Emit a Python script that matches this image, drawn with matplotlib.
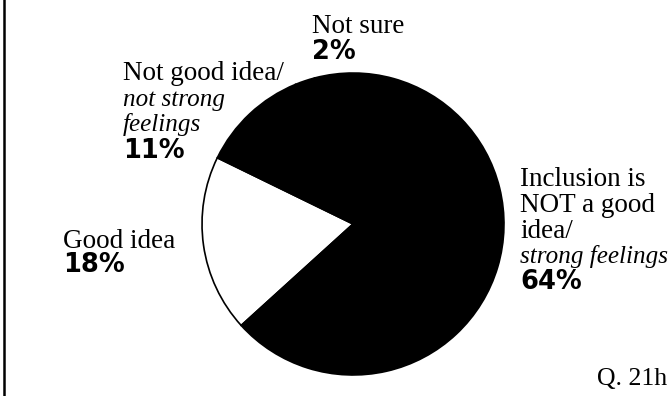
import matplotlib
matplotlib.use('Agg')
import matplotlib.pyplot as plt
from matplotlib.lines import Line2D

# survey answers, percent
labels = ['Good idea', 'Inclusion is NOT a good idea/strong feelings',
          'Not sure', 'Not good idea/not strong feelings']
shares = [18, 64, 2, 11]
colors = ['white', 'black', 'black', 'black']

W, H = 670, 396
serif = 'Liberation Serif'
heavy = 'DejaVu Sans'

fig = plt.figure(figsize=(W / 100, H / 100), dpi=100)
fig.patch.set_facecolor('white')

# pie: centre (353, 224) px, radius 154 px
cx, cy, r = 353, 224, 154
ax = fig.add_axes([(cx - r) / W, (H - cy - r) / H, 2 * r / W, 2 * r / H])
ax.pie(shares, colors=colors, startangle=154, counterclock=True,
       wedgeprops={'edgecolor': 'black', 'linewidth': 1.2})
ax.set_xlim(-1.02, 1.02)
ax.set_ylim(-1.02, 1.02)
ax.set_aspect('equal')
ax.axis('off')


def put(x, y, s, style='normal', font=serif, size=19.5, weight='normal'):
    if style == 'italic':
        size = 18.1
    fig.text(x / W, 1 - y / H, s, ha='left', va='baseline', fontsize=size,
             family=font, style=style, weight=weight)


pct = dict(font=heavy, size=18.5, weight='heavy')

# Not sure
put(312, 33, 'Not sure')
put(312, 59, '2%', **pct)

# Not good idea / not strong feelings
put(123, 80, 'Not good idea/')
put(123, 106, 'not strong', style='italic')
put(123, 131, 'feelings', style='italic')
put(123, 158, '11%', **pct)

# Good idea
put(63, 248, 'Good idea')
put(63, 272, '18%', **pct)

# Inclusion is NOT a good idea / strong feelings
put(520, 186, 'Inclusion is')
put(520, 212, 'NOT a good')
put(520, 238, 'idea/')
put(520, 263, 'strong feelings', style='italic')
put(520, 289, '64%', **pct)

# question reference, bottom right (cut by the page edge in the scan)
put(597, 385, 'Q. 21h', size=18.5)

# rule down the left side
fig.add_artist(Line2D([4 / W, 4 / W], [0, 1], color='black', linewidth=1.8))

fig.savefig('out.png', dpi=100, facecolor='white')
